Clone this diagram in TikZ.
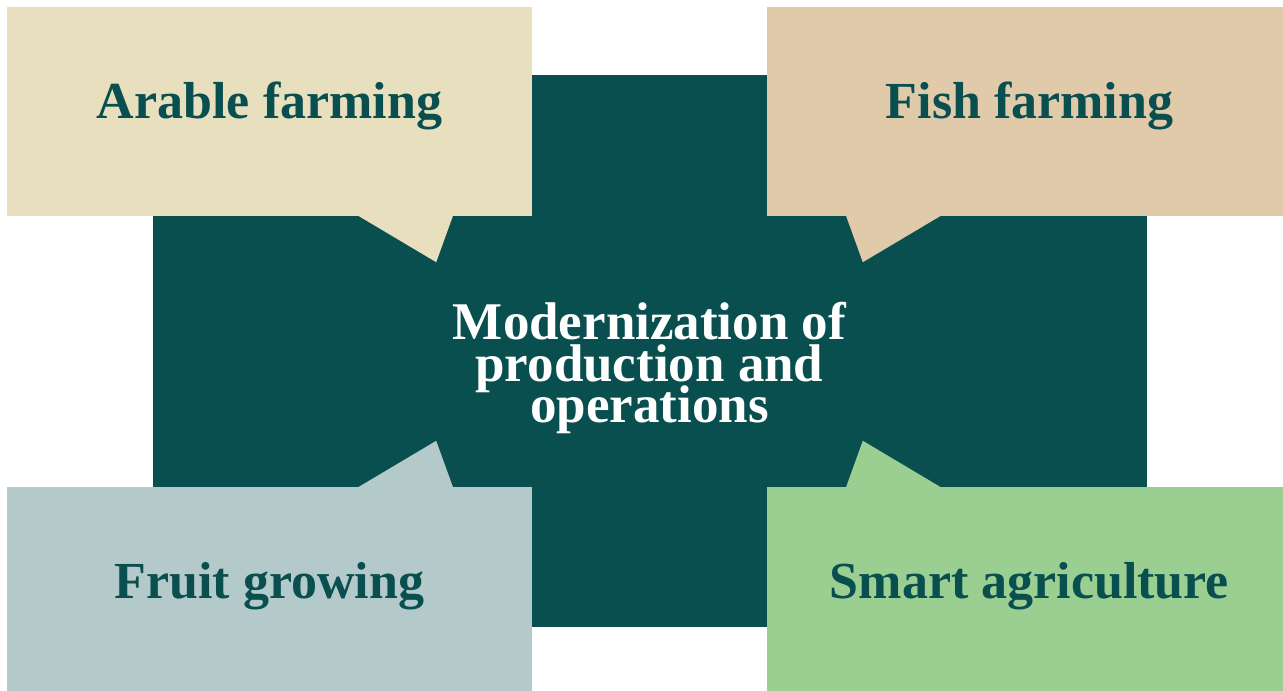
\documentclass[tikz,border=0pt]{standalone}
\usepackage{fontspec}
\setmainfont{Liberation Serif}
\usetikzlibrary{calc,positioning}

\definecolor{petrol}{HTML}{0A4F4F}
\definecolor{arablecol}{HTML}{E7DFBE}
\definecolor{fishcol}{HTML}{E0CAAA}
\definecolor{fruitcol}{HTML}{B4C9CA}
\definecolor{smartcol}{HTML}{9BCF92}

% let lines sit closer than their ascenders and descenders allow
\newcommand{\tightlines}{\setlength{\lineskiplimit}{-50pt}}

\begin{document}
\begin{tikzpicture}[x=1pt,y=1pt,
        bar/.style={fill=petrol, inner sep=0pt},
        card/.style={fill=#1, inner sep=0pt, minimum width=525pt, minimum height=209pt,
                text=petrol, font=\fontsize{52}{52}\selectfont\bfseries,
                text height=35pt, text depth=20pt}]
        \clip (0,0) rectangle (1283,691);
        \coordinate (mid) at (649.5,339.5);
        % the cross behind everything
        \node[bar, minimum width=994pt, minimum height=272pt] (hbar) at (mid) {};
        \node[bar, minimum width=235pt, minimum height=552pt] (vbar) at (mid) {};
        \node[text=white, align=center,
                font=\fontsize{53}{41.5}\selectfont\bfseries\tightlines]
                (hub) at ([yshift=-16.5]mid) {Modernization of\\production and\\operations};
        % the four callouts
        \node[card=arablecol] (arable) at ([shift={(-380,240)}]mid) {Arable farming};
        \node[card=fishcol] (fish) at ([shift={(380,240)}]mid) {Fish farming};
        \node[card=fruitcol] (fruit) at ([shift={(-380,-240)}]mid) {Fruit growing};
        \node[card=smartcol] (smart) at ([shift={(380,-240)}]mid) {Smart agriculture};
        % pointers towards the hub
        \fill[arablecol] ([shift={(-175,1)}]arable.south east) -- ([shift={(-96,-46)}]arable.south east)
                -- ([shift={(-79,1)}]arable.south east) -- cycle;
        \fill[fishcol] ([shift={(175,1)}]fish.south west) -- ([shift={(96,-46)}]fish.south west)
                -- ([shift={(79,1)}]fish.south west) -- cycle;
        \fill[fruitcol] ([shift={(-175,-1)}]fruit.north east) -- ([shift={(-96,46)}]fruit.north east)
                -- ([shift={(-79,-1)}]fruit.north east) -- cycle;
        \fill[smartcol] ([shift={(175,-1)}]smart.north west) -- ([shift={(96,46)}]smart.north west)
                -- ([shift={(79,-1)}]smart.north west) -- cycle;
\end{tikzpicture}
\end{document}
